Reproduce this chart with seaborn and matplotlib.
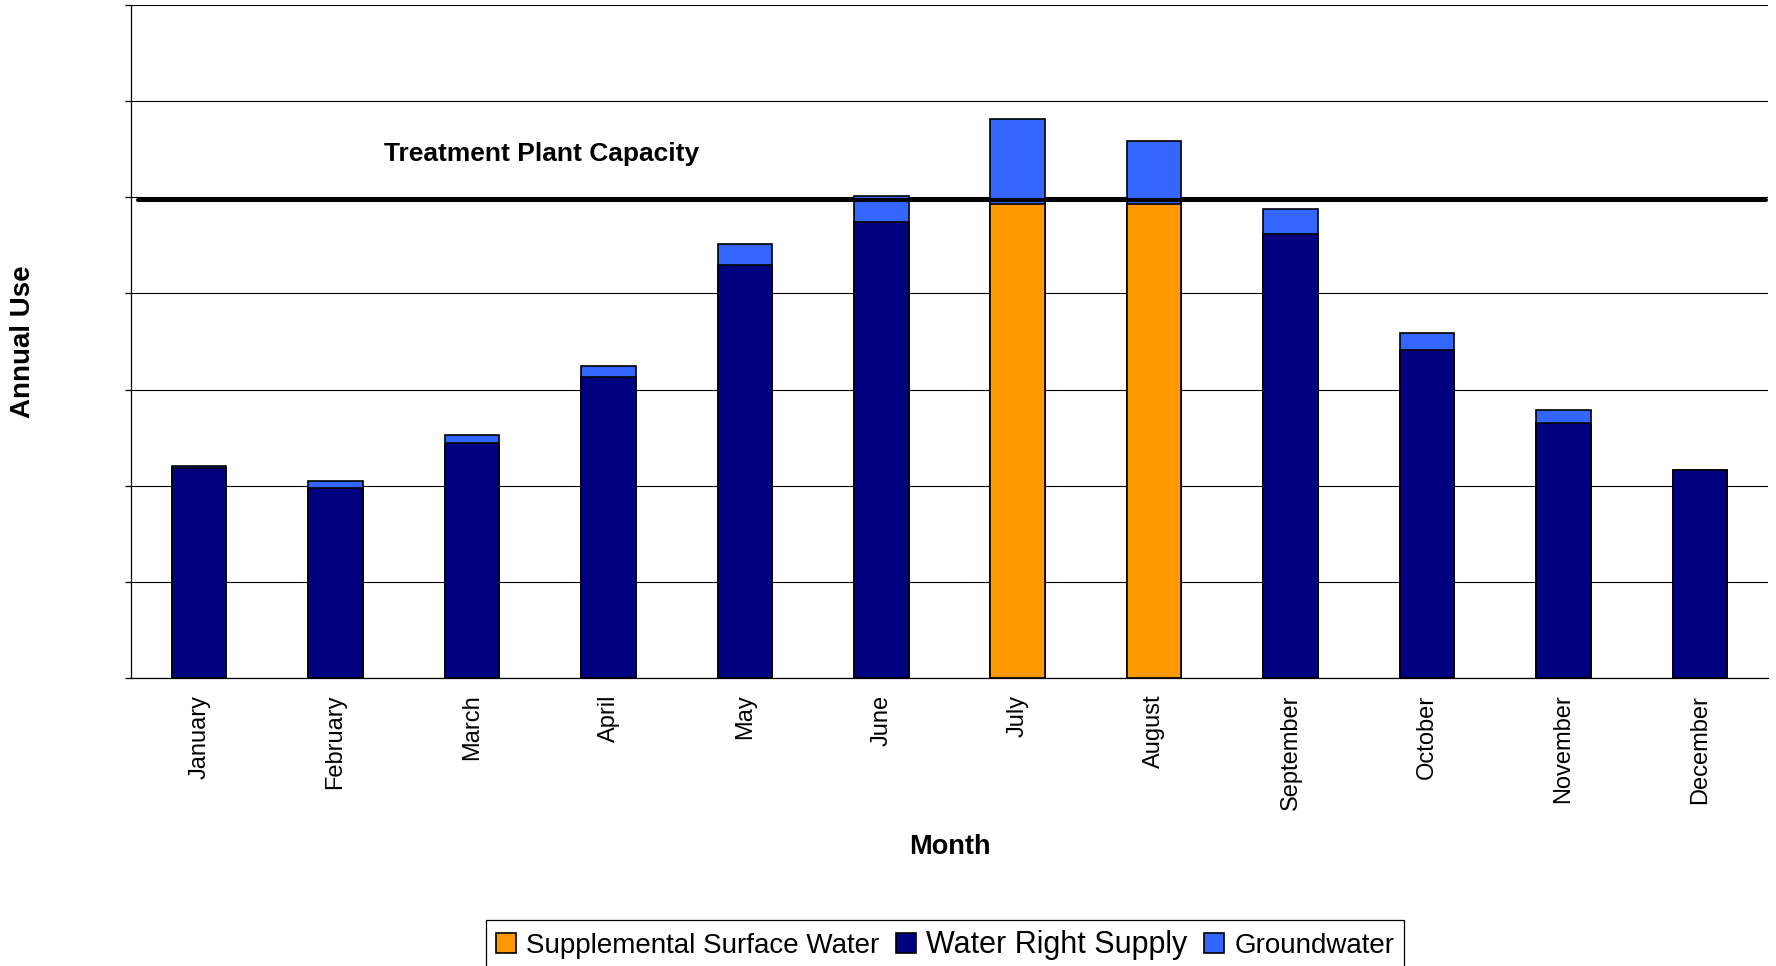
import numpy as np
import pandas as pd
import matplotlib
matplotlib.use("Agg")
import matplotlib.pyplot as plt
from matplotlib.patches import Patch
import seaborn as sns

months = ['January', 'February', 'March', 'April', 'May', 'June',
          'July', 'August', 'September', 'October', 'November', 'December']
water_right = [2.18, 1.98, 2.44, 3.13, 4.30, 4.74, 0.0, 0.0, 4.62, 3.41, 2.65, 2.16]
supplemental = [0.0, 0.0, 0.0, 0.0, 0.0, 0.0, 4.93, 4.93, 0.0, 0.0, 0.0, 0.0]
groundwater = [0.03, 0.07, 0.09, 0.11, 0.21, 0.27, 0.88, 0.66, 0.26, 0.18, 0.14, 0.0]
capacity = 4.97

orange = '#FF9900'
navy = '#000080'
blue = '#3366FF'

df = pd.DataFrame({'month': months, 'water_right': water_right,
                   'supplemental': supplemental, 'groundwater': groundwater})
df['base'] = df['water_right'] + df['supplemental']
df['total'] = df['base'] + df['groundwater']

sns.set_style("white")
plt.rcParams['font.family'] = ['Liberation Sans', 'DejaVu Sans']
plt.rcParams['text.color'] = 'black'
plt.rcParams['axes.labelcolor'] = 'black'
plt.rcParams['xtick.color'] = 'black'
plt.rcParams['ytick.color'] = 'black'

fig = plt.figure(figsize=(17.76, 9.66), dpi=100)
ax = fig.add_axes([131 / 1776, 1 - 678 / 966, (1768 - 131) / 1776, 673 / 966])

bar_kw = dict(saturation=1, width=0.4, edgecolor='black', linewidth=1.2, errorbar=None, ax=ax)
# stacked look: total first, then the base layers on top of it
sns.barplot(data=df, x='month', y='total', color=blue, **bar_kw)
sns.barplot(data=df, x='month', y='water_right', color=navy, **bar_kw)
sns.barplot(data=df, x='month', y='supplemental', color=orange, **bar_kw)

ax.axhline(capacity, xmin=0.004, xmax=0.999, color='black', lw=2.9, zorder=5)
ax.text(2.51, 5.45, 'Treatment Plant Capacity', ha='center', va='center',
        fontsize=19, fontweight='bold', color='black')

ax.set_xlim(-0.5, 11.5)
ax.set_ylim(0, 7)
ax.set_yticks(np.arange(0, 8, 1))
ax.set_yticklabels([])
ax.set_axisbelow(True)
ax.yaxis.grid(True, color='black', lw=0.8)
ax.xaxis.grid(False)

ax.set_xticks(range(len(months)))
ax.set_xticklabels(months, rotation=90, fontsize=17, color='black')
ax.set_xticks(np.arange(-0.5, 12, 1), minor=True)
ax.tick_params(axis='x', which='major', length=0, pad=12)
ax.tick_params(axis='x', which='minor', length=4.5, width=0.9, color='black', direction='out')
ax.tick_params(axis='y', length=4.5, width=0.9, color='black', direction='out', left=True)

for s in ['top', 'right']:
    ax.spines[s].set_visible(False)
for s in ['left', 'bottom']:
    ax.spines[s].set_color('black')
    ax.spines[s].set_linewidth(0.9)

ax.set_xlabel('Month', fontsize=19.5, fontweight='bold', color='black')
ax.xaxis.set_label_coords(0.5, -0.232)
ax.set_ylabel('Annual Use', fontsize=20, fontweight='bold', color='black')
ax.yaxis.set_label_coords(-0.058, 0.5)

handles = [Patch(facecolor=orange, edgecolor='black', lw=1.2, label='Supplemental Surface Water'),
           Patch(facecolor=navy, edgecolor='black', lw=1.2, label='Water Right Supply'),
           Patch(facecolor=blue, edgecolor='black', lw=1.2, label='Groundwater')]
leg = fig.legend(handles=handles, loc='upper left', bbox_to_anchor=(486 / 1776, 46 / 966),
                 ncol=3, fontsize=20, frameon=True, fancybox=False, framealpha=1,
                 edgecolor='black', handlelength=0.72, handleheight=0.72,
                 handletextpad=0.37, columnspacing=0.6, borderpad=0.35, borderaxespad=0)
leg.get_frame().set_linewidth(0.9)
for t in leg.get_texts():
    t.set_color('black')
leg.get_texts()[1].set_fontsize(22)

plt.savefig('out.png', dpi=100)
plt.close()
